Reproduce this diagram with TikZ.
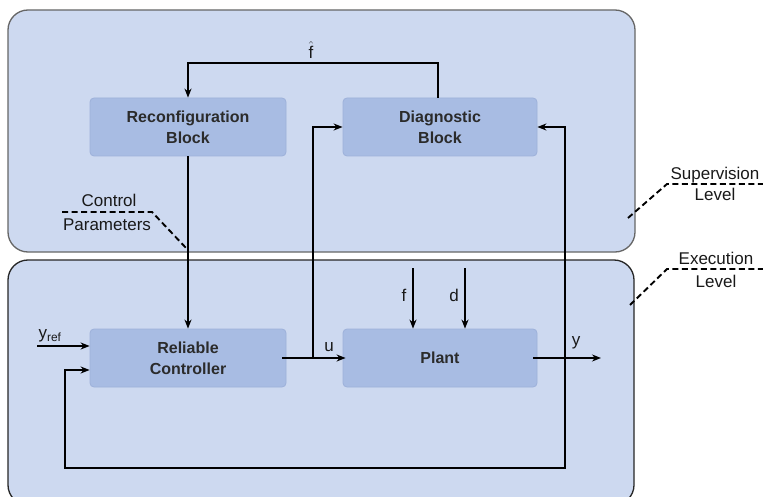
\documentclass[tikz,border=0pt]{standalone}
\usepackage{fontspec}
\setmainfont{Liberation Sans}
\usetikzlibrary{arrows.meta,calc}
\definecolor{contfill}{HTML}{CDD9F0}
\definecolor{boxfill}{HTML}{A8BCE3}
\definecolor{boxedge}{HTML}{9DB1DA}
\definecolor{txt}{HTML}{2B2B2B}
\tikzset{
  container/.style={draw=#1, line width=1.3pt, fill=contfill, rounded corners=20pt},
  blockbox/.style={draw=boxedge, line width=0.8pt, fill=boxfill, rounded corners=4pt,
    minimum width=196pt, minimum height=58pt, align=center, text=txt,
    font=\fontsize{16}{21}\selectfont\bfseries},
  arr/.style={line width=2pt, -{Stealth[length=9pt,width=7pt]}},
  lbl/.style={font=\fontsize{17}{20}\selectfont, text=black!90, inner sep=0pt},
  dashline/.style={line width=1.9pt, dash pattern=on 6pt off 3.5pt}
}
\begin{document}
\begin{tikzpicture}[x=1pt,y=-1pt]
\useasboundingbox (0,0) rectangle (763,497);
\clip (0,0) rectangle (763,497);
% containers
\draw[container=gray!80!black] (8,10) rectangle (635,252);
\draw[container=black!85] (8,260) rectangle (634,505);
% blocks
\node[blockbox] (recon) at (188,127) {Reconfiguration\\Block};
\node[blockbox, minimum width=194pt] (diag) at (440,127) {Diagnostic\\Block};
\node[blockbox] (ctrl) at (188,358) {Reliable\\Controller};
\node[blockbox, minimum width=194pt] (plant) at (440,358) {Plant};
% helper coordinates
\coordinate (fh) at (313,63);
\coordinate (ub) at (313,358);
\coordinate (yb) at (565,358);
\coordinate (yout) at (601,358);
\coordinate (fbl) at (65,468);
\coordinate (yrefin) at (37,346);
\coordinate (fin) at (413,268);
\coordinate (din) at (465,268);
% fhat loop
\draw[arr] ($(diag.north)+(-2,0)$) |- (fh) -| (recon.north);
\node[lbl] (fhatlbl) at (311,50) {$\hat{\mbox{f}}$};
% reconfig to controller
\draw[arr] (recon.south) -- (ctrl.north);
% u
\draw[arr] ($(ctrl.east)+(-4,0)$) -- ($(plant.west)+(3,0)$);
\draw[arr] (ub) |- (diag.west);
\node[lbl] (ulbl) at (329,347) {u};
% y
\draw[arr] ($(plant.east)+(-4,0)$) -- (yout);
\node[lbl] (ylbl) at (576,343) {y};
\draw[arr] (yb) |- (diag.east);
\draw[arr] (yb) |- (fbl) |- ($(ctrl.west)+(0,12)$);
% yref
\draw[arr] (yrefin) -- ($(ctrl.west)+(0,-12)$);
\node[lbl] (yreflbl) at (50,336) {y\textsubscript{ref}};
% f, d
\draw[arr] (fin) -- (fin |- plant.north);
\draw[arr] (din) -- (din |- plant.north);
\node[lbl] (flbl) at (404,295) {f};
\node[lbl] (dlbl) at (454,295) {d};
% Control Parameters
\coordinate (cp1) at (62,212);
\coordinate (cp2) at (152,212);
\coordinate (cp3) at (187,249);
\draw[dashline] (cp1) -- (cp2) -- (cp3);
\node[lbl, anchor=base] (cplbl1) at (109,207) {Control};
\node[lbl, anchor=base] (cplbl2) at (107,230) {Parameters};
% Supervision Level
\coordinate (sl1) at (628,218);
\coordinate (sl2) at (667,184);
\coordinate (sl3) at (765,184);
\draw[dashline] (sl1) -- (sl2) -- (sl3);
\node[lbl, anchor=base] (sllbl1) at (715,180) {Supervision};
\node[lbl, anchor=base] (sllbl2) at (715,201) {Level};
% Execution Level
\coordinate (el1) at (630,305);
\coordinate (el2) at (667,269);
\coordinate (el3) at (765,269);
\draw[dashline] (el1) -- (el2) -- (el3);
\node[lbl, anchor=base] (ellbl1) at (716,265) {Execution};
\node[lbl, anchor=base] (ellbl2) at (716,287) {Level};
\end{tikzpicture}
\end{document}
